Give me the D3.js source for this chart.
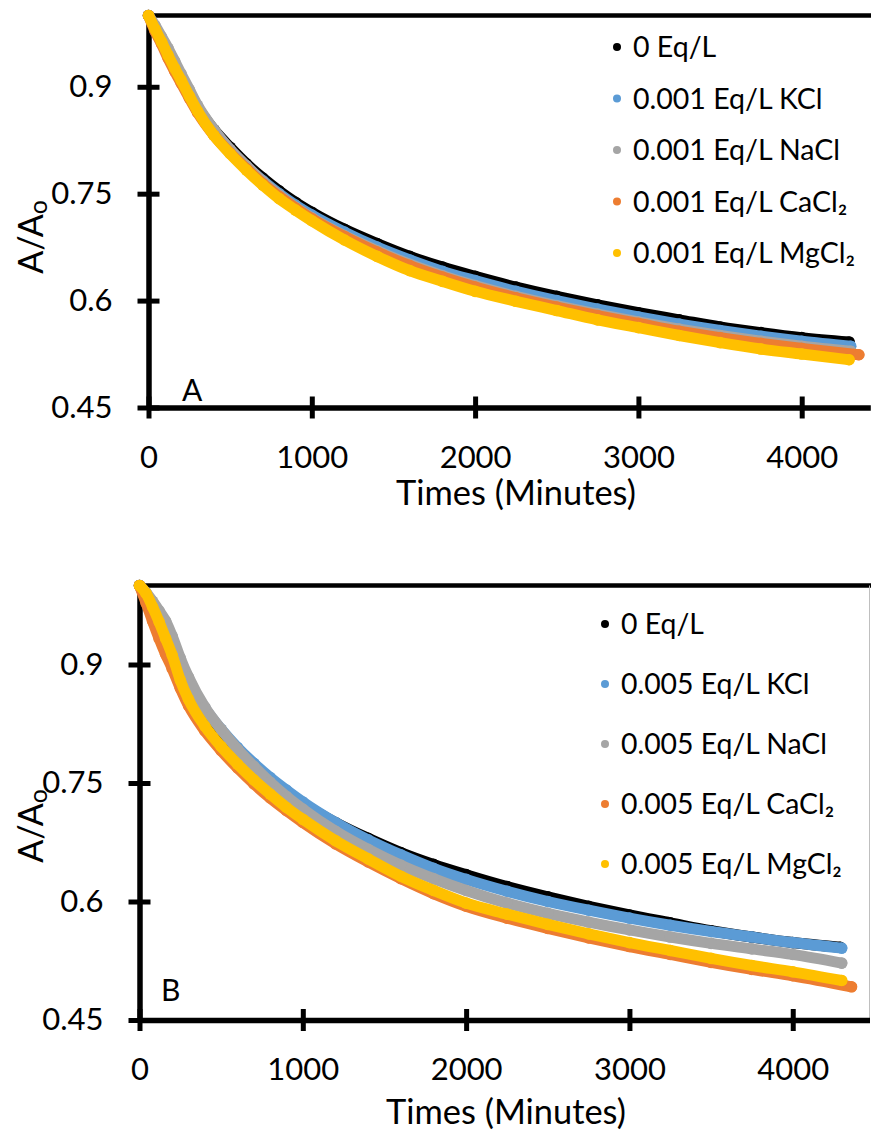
<!DOCTYPE html>
<html>
<head>
<meta charset="utf-8">
<script src="https://cdn.jsdelivr.net/npm/d3@7/dist/d3.min.js"></script>
<style>
  body { margin: 0; background: #fff; }
  text { font-family: Lato, "Noto Sans", sans-serif; fill: #000; }
</style>
</head>
<body>
<svg id="chart" width="871" height="1135"></svg>
<script>
// sample times (minutes) shared by every series; last entry is replaced by each series' own end time
var times = [0, 40, 80, 120, 160, 200, 250, 300, 400, 500, 600, 700, 800, 900, 1000,
  1200, 1400, 1600, 1800, 2000, 2250, 2500, 2750, 3000, 3250, 3500, 3750, 4000, 4300];

// control, same in both panels
var control = [1.000, 0.983, 0.966, 0.948, 0.930, 0.914, 0.893, 0.872, 0.840, 0.815, 0.792, 0.772, 0.754, 0.738, 0.724,
  0.700, 0.680, 0.662, 0.647, 0.634, 0.619, 0.606, 0.594, 0.583, 0.573, 0.563, 0.555, 0.548, 0.542];

// panel A, 0.001 Eq/L
var kclA = [1.000, 0.982, 0.964, 0.946, 0.928, 0.911, 0.890, 0.869, 0.837, 0.811, 0.788, 0.768, 0.750, 0.734, 0.720,
  0.696, 0.675, 0.657, 0.641, 0.628, 0.613, 0.600, 0.588, 0.577, 0.567, 0.558, 0.550, 0.543, 0.536];
var naclA = [1.000, 0.986, 0.970, 0.954, 0.936, 0.918, 0.896, 0.874, 0.840, 0.812, 0.789, 0.767, 0.748, 0.731, 0.716,
  0.691, 0.670, 0.651, 0.635, 0.621, 0.606, 0.593, 0.581, 0.570, 0.560, 0.551, 0.543, 0.536, 0.529];
var cacl2A = [1.000, 0.978, 0.960, 0.940, 0.922, 0.905, 0.884, 0.864, 0.832, 0.807, 0.785, 0.764, 0.746, 0.730, 0.715,
  0.690, 0.668, 0.649, 0.633, 0.619, 0.604, 0.591, 0.579, 0.568, 0.557, 0.548, 0.540, 0.533, 0.524];
var mgcl2A = [1.000, 0.981, 0.963, 0.944, 0.926, 0.909, 0.887, 0.866, 0.832, 0.806, 0.783, 0.762, 0.743, 0.727, 0.712,
  0.685, 0.662, 0.642, 0.627, 0.613, 0.599, 0.586, 0.573, 0.562, 0.551, 0.541, 0.532, 0.525, 0.517];
var endTimesA = [4290, 4300, 4300, 4350, 4290];

// panel B, 0.005 Eq/L
var kclB = [1.000, 0.986, 0.970, 0.954, 0.937, 0.920, 0.900, 0.880, 0.845, 0.818, 0.795, 0.775, 0.757, 0.741, 0.726,
  0.700, 0.678, 0.659, 0.642, 0.628, 0.613, 0.600, 0.589, 0.579, 0.570, 0.562, 0.555, 0.548, 0.541];
var naclB = [1.000, 0.991, 0.980, 0.968, 0.955, 0.936, 0.908, 0.884, 0.846, 0.818, 0.793, 0.771, 0.751, 0.733, 0.717,
  0.689, 0.666, 0.646, 0.629, 0.614, 0.598, 0.585, 0.574, 0.564, 0.555, 0.547, 0.540, 0.533, 0.522];
var cacl2B = [1.000, 0.978, 0.955, 0.933, 0.913, 0.895, 0.870, 0.848, 0.816, 0.791, 0.769, 0.749, 0.731, 0.715, 0.700,
  0.673, 0.650, 0.629, 0.610, 0.594, 0.579, 0.566, 0.554, 0.543, 0.533, 0.523, 0.514, 0.506, 0.492];
var mgcl2B = [1.000, 0.990, 0.973, 0.954, 0.933, 0.912, 0.880, 0.856, 0.822, 0.796, 0.774, 0.754, 0.736, 0.719, 0.704,
  0.677, 0.654, 0.632, 0.614, 0.598, 0.584, 0.571, 0.559, 0.548, 0.538, 0.528, 0.519, 0.511, 0.500];
var endTimesB = [4290, 4300, 4300, 4360, 4300];

var namesA = ["0 Eq/L", "0.001 Eq/L KCl", "0.001 Eq/L NaCl", "0.001 Eq/L CaCl\u2082", "0.001 Eq/L MgCl\u2082"];
var namesB = ["0 Eq/L", "0.005 Eq/L KCl", "0.005 Eq/L NaCl", "0.005 Eq/L CaCl\u2082", "0.005 Eq/L MgCl\u2082"];
var colors = ["#000000", "#5B9BD5", "#A5A5A5", "#ED7D31", "#FFC000"];

var yTicks = [0.45, 0.6, 0.75, 0.9];
var xTicks = [0, 1000, 2000, 3000, 4000];

var svg = d3.select("#chart");

// scale a group of texts so the widest one is w pixels long
function fitWidth(sel, w) {
  var maxLen = d3.max(sel.nodes(), n => n.getComputedTextLength());
  var fs = parseFloat(sel.attr("font-size"));
  sel.attr("font-size", fs * w / maxLen);
}

function drawPanel(p) {
  var g = svg.append("g");
  var x = d3.scaleLinear().domain([0, p.xMax]).range([p.left, p.right]);
  var y = d3.scaleLinear().domain([0.45, 1.0]).range([p.bottom, p.top]);

  // top border of plot area
  g.append("line")
    .attr("x1", p.left).attr("x2", 871)
    .attr("y1", p.top).attr("y2", p.top)
    .attr("stroke", "#000").attr("stroke-width", 4.5);
  if (p.rightBorder) {
    g.append("line")
      .attr("x1", p.right).attr("x2", p.right)
      .attr("y1", p.top).attr("y2", p.bottom)
      .attr("stroke", "#BFBFBF").attr("stroke-width", 1);
  }

  // axes
  var yAxis = g.append("g")
    .attr("transform", `translate(${p.left},0)`)
    .call(d3.axisLeft(y).tickValues(yTicks).tickSize(11).tickSizeOuter(0).tickPadding(25)
      .tickFormat(d3.format("")));
  var xAxis = g.append("g")
    .attr("transform", `translate(0,${p.bottom})`)
    .call(d3.axisBottom(x).tickValues(xTicks).tickSize(11).tickSizeOuter(0).tickPadding(27)
      .tickFormat(d3.format("d")));
  [yAxis, xAxis].forEach(a => {
    a.attr("font-size", 31);
    a.select(".domain").attr("stroke-width", 5.5);
    a.selectAll(".tick line").attr("stroke-width", 5);
  });
  yAxis.selectAll(".tick line").attr("x1", 11);
  xAxis.selectAll(".tick line").attr("y1", -11);

  // series: thick band of dots
  var line = d3.line().x(d => x(d.t)).y(d => y(d.v)).curve(d3.curveMonotoneX);
  p.series.forEach((vals, i) => {
    var pts = vals.map((v, j) => ({ t: j === times.length - 1 ? p.ends[i] : times[j], v: v }));
    g.append("path")
      .attr("d", line(pts))
      .attr("fill", "none")
      .attr("stroke", colors[i])
      .attr("stroke-width", 11)
      .attr("stroke-linecap", "round")
      .attr("stroke-linejoin", "round");
    g.selectAll(null).data(pts).enter().append("circle")
      .attr("cx", d => x(d.t)).attr("cy", d => y(d.v))
      .attr("r", 5.8).attr("fill", colors[i]);
  });

  // legend
  var leg = g.append("g");
  p.names.forEach((n, i) => {
    var ry = p.legY + i * p.legStep;
    leg.append("circle").attr("cx", p.legX).attr("cy", ry).attr("r", 4).attr("fill", colors[i]);
    leg.append("text").attr("class", "lt").attr("x", p.legX + 16).attr("y", ry + 10)
      .attr("font-size", 28).text(n);
  });
  fitWidth(leg.selectAll("text.lt"), p.legW);

  // panel letter
  g.append("text").attr("x", p.letterX).attr("y", p.letterY).attr("font-size", 30).text(p.letter);

  // axis titles
  var title = g.append("text")
    .attr("x", p.titleX).attr("y", p.titleY)
    .attr("text-anchor", "middle").attr("font-size", 34)
    .text("Times (Minutes)");
  fitWidth(title, 240);
  var yl = g.append("text")
    .attr("transform", `translate(${p.ylabX},${p.ylabY}) rotate(-90)`)
    .attr("text-anchor", "middle").attr("font-size", 34)
    .text("A/A");
  yl.append("tspan").attr("font-size", 25).attr("dy", 4).text("o");
}

drawPanel({
  left: 148.5, right: 870.3, top: 15.5, bottom: 407.5, xMax: 4420,
  series: [control, kclA, naclA, cacl2A, mgcl2A], ends: endTimesA, names: namesA,
  legX: 617, legY: 47, legStep: 51.5, legW: 222,
  letter: "A", letterX: 182, letterY: 401,
  titleX: 516, titleY: 505, ylabX: 43, ylabY: 237, rightBorder: false
});

drawPanel({
  left: 139.5, right: 869.5, top: 585.5, bottom: 1020, xMax: 4470,
  series: [control, kclB, naclB, cacl2B, mgcl2B], ends: endTimesB, names: namesB,
  legX: 605, legY: 624, legStep: 60, legW: 221,
  letter: "B", letterX: 161, letterY: 1001,
  titleX: 506, titleY: 1124, ylabX: 43, ylabY: 826, rightBorder: true
});
</script>
</body>
</html>
